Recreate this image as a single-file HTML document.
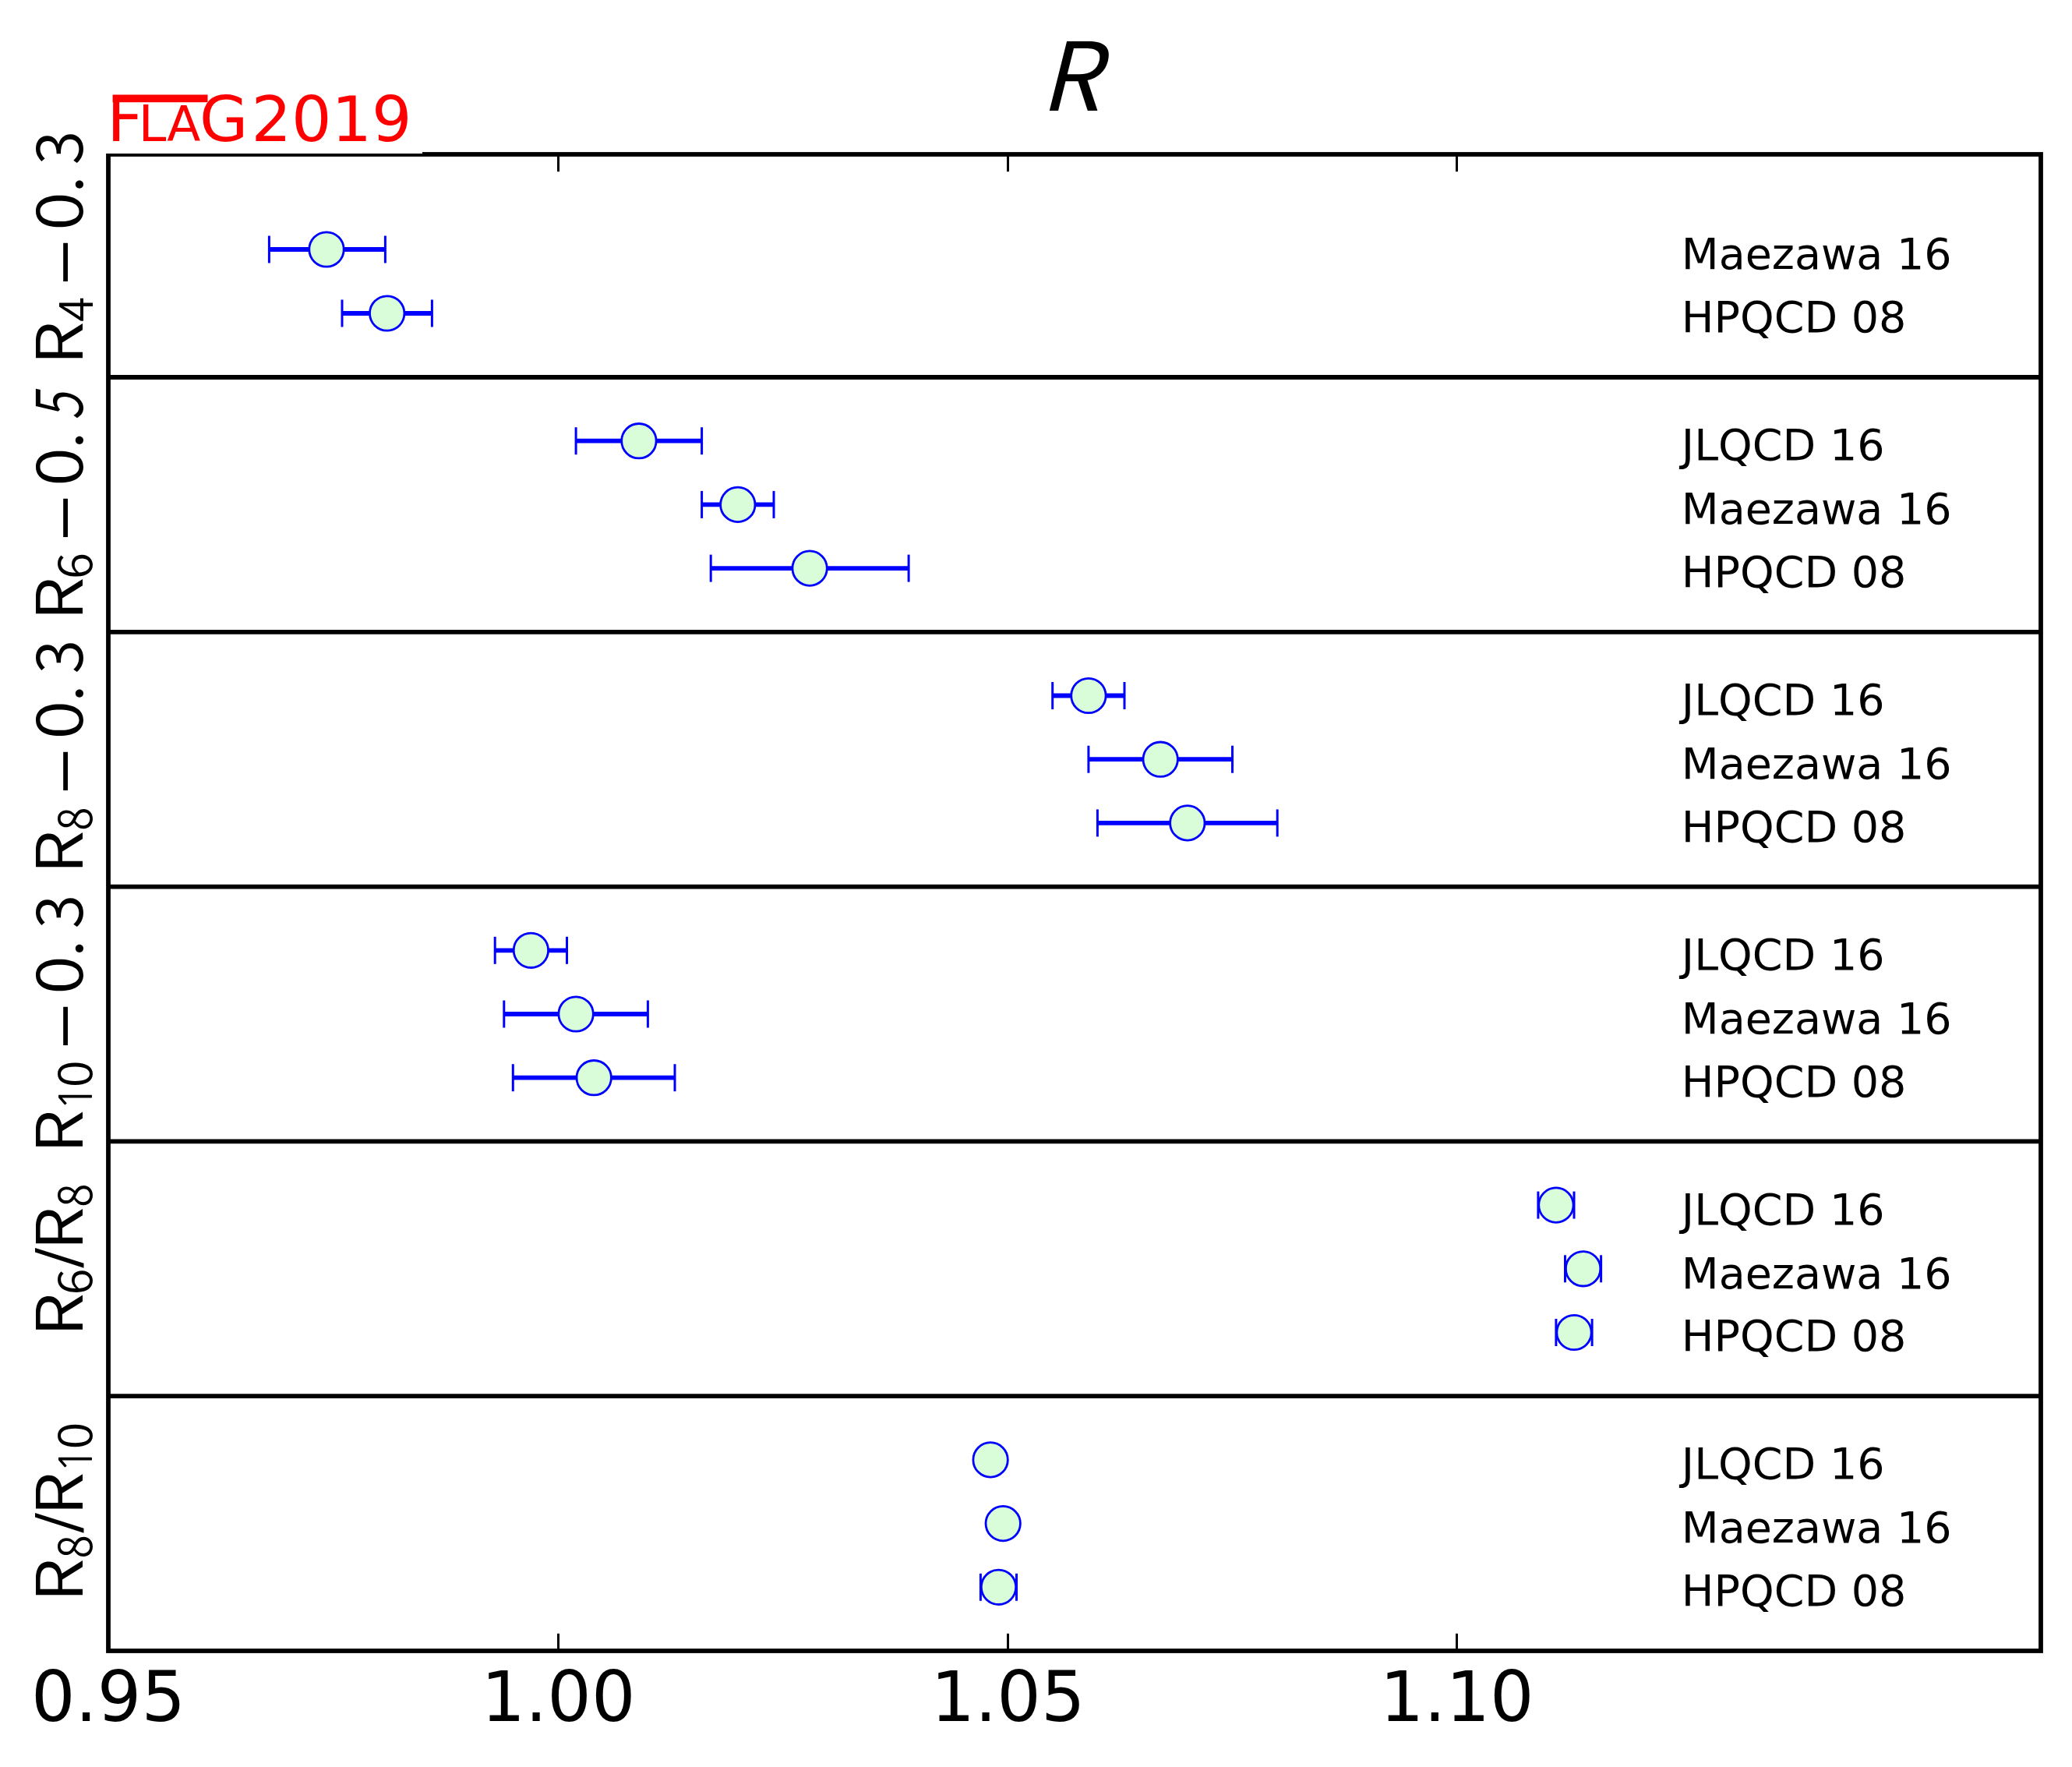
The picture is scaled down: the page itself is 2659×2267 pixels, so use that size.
<!DOCTYPE html>
<html lang="en"><head><meta charset="utf-8"><title>R</title>
<style>
html,body{margin:0;padding:0;background:#fff}
svg{display:block}
text{font-family:"DejaVu Sans","Liberation Sans",sans-serif;fill:#000}
.lab{font-size:55.5px}
.tick{font-size:88.9px;text-anchor:middle}
.red{fill:#f00}
</style></head>
<body>
<svg width="2659" height="2267" viewBox="0 0 2659 2267">
<rect x="0" y="0" width="2659" height="2267" fill="#fff"/>
<g stroke="#00f" fill="none">
<line x1="345.4" y1="320.0" x2="494.4" y2="320.0" stroke-width="5.8"/><line x1="345.4" y1="302.5" x2="345.4" y2="337.5" stroke-width="3"/><line x1="494.4" y1="302.5" x2="494.4" y2="337.5" stroke-width="3"/><circle cx="419.0" cy="320.0" r="22.2" fill="#d9fdd9" stroke-width="2.8"/>
<line x1="439.0" y1="402.0" x2="554.4" y2="402.0" stroke-width="5.8"/><line x1="439.0" y1="384.5" x2="439.0" y2="419.5" stroke-width="3"/><line x1="554.4" y1="384.5" x2="554.4" y2="419.5" stroke-width="3"/><circle cx="496.7" cy="402.0" r="22.2" fill="#d9fdd9" stroke-width="2.8"/>
<line x1="739.1" y1="565.7" x2="900.6" y2="565.7" stroke-width="5.8"/><line x1="739.1" y1="548.2" x2="739.1" y2="583.2" stroke-width="3"/><line x1="900.6" y1="548.2" x2="900.6" y2="583.2" stroke-width="3"/><circle cx="819.9" cy="565.7" r="22.2" fill="#d9fdd9" stroke-width="2.8"/>
<line x1="900.6" y1="647.4" x2="993.0" y2="647.4" stroke-width="5.8"/><line x1="900.6" y1="629.9" x2="900.6" y2="664.9" stroke-width="3"/><line x1="993.0" y1="629.9" x2="993.0" y2="664.9" stroke-width="3"/><circle cx="946.8" cy="647.4" r="22.2" fill="#d9fdd9" stroke-width="2.8"/>
<line x1="912.2" y1="729.1" x2="1166.1" y2="729.1" stroke-width="5.8"/><line x1="912.2" y1="711.6" x2="912.2" y2="746.6" stroke-width="3"/><line x1="1166.1" y1="711.6" x2="1166.1" y2="746.6" stroke-width="3"/><circle cx="1039.1" cy="729.1" r="22.2" fill="#d9fdd9" stroke-width="2.8"/>
<line x1="1350.7" y1="892.5" x2="1443.0" y2="892.5" stroke-width="5.8"/><line x1="1350.7" y1="875.0" x2="1350.7" y2="910.0" stroke-width="3"/><line x1="1443.0" y1="875.0" x2="1443.0" y2="910.0" stroke-width="3"/><circle cx="1396.9" cy="892.5" r="22.2" fill="#d9fdd9" stroke-width="2.8"/>
<line x1="1396.9" y1="974.2" x2="1581.5" y2="974.2" stroke-width="5.8"/><line x1="1396.9" y1="956.7" x2="1396.9" y2="991.7" stroke-width="3"/><line x1="1581.5" y1="956.7" x2="1581.5" y2="991.7" stroke-width="3"/><circle cx="1489.2" cy="974.2" r="22.2" fill="#d9fdd9" stroke-width="2.8"/>
<line x1="1408.4" y1="1055.9" x2="1639.2" y2="1055.9" stroke-width="5.8"/><line x1="1408.4" y1="1038.4" x2="1408.4" y2="1073.4" stroke-width="3"/><line x1="1639.2" y1="1038.4" x2="1639.2" y2="1073.4" stroke-width="3"/><circle cx="1523.8" cy="1055.9" r="22.2" fill="#d9fdd9" stroke-width="2.8"/>
<line x1="635.2" y1="1219.3" x2="727.5" y2="1219.3" stroke-width="5.8"/><line x1="635.2" y1="1201.8" x2="635.2" y2="1236.8" stroke-width="3"/><line x1="727.5" y1="1201.8" x2="727.5" y2="1236.8" stroke-width="3"/><circle cx="681.4" cy="1219.3" r="22.2" fill="#d9fdd9" stroke-width="2.8"/>
<line x1="646.8" y1="1301.0" x2="831.4" y2="1301.0" stroke-width="5.8"/><line x1="646.8" y1="1283.5" x2="646.8" y2="1318.5" stroke-width="3"/><line x1="831.4" y1="1283.5" x2="831.4" y2="1318.5" stroke-width="3"/><circle cx="739.1" cy="1301.0" r="22.2" fill="#d9fdd9" stroke-width="2.8"/>
<line x1="658.3" y1="1382.7" x2="866.0" y2="1382.7" stroke-width="5.8"/><line x1="658.3" y1="1365.2" x2="658.3" y2="1400.2" stroke-width="3"/><line x1="866.0" y1="1365.2" x2="866.0" y2="1400.2" stroke-width="3"/><circle cx="762.2" cy="1382.7" r="22.2" fill="#d9fdd9" stroke-width="2.8"/>
<line x1="1973.9" y1="1546.1" x2="2020.0" y2="1546.1" stroke-width="5.8"/><line x1="1973.9" y1="1528.6" x2="1973.9" y2="1563.6" stroke-width="3"/><line x1="2020.0" y1="1528.6" x2="2020.0" y2="1563.6" stroke-width="3"/><circle cx="1996.9" cy="1546.1" r="22.2" fill="#d9fdd9" stroke-width="2.8"/>
<line x1="2008.5" y1="1627.8" x2="2054.6" y2="1627.8" stroke-width="5.8"/><line x1="2008.5" y1="1610.3" x2="2008.5" y2="1645.3" stroke-width="3"/><line x1="2054.6" y1="1610.3" x2="2054.6" y2="1645.3" stroke-width="3"/><circle cx="2031.6" cy="1627.8" r="22.2" fill="#d9fdd9" stroke-width="2.8"/>
<line x1="1996.9" y1="1709.5" x2="2043.1" y2="1709.5" stroke-width="5.8"/><line x1="1996.9" y1="1692.0" x2="1996.9" y2="1727.0" stroke-width="3"/><line x1="2043.1" y1="1692.0" x2="2043.1" y2="1727.0" stroke-width="3"/><circle cx="2020.0" cy="1709.5" r="22.2" fill="#d9fdd9" stroke-width="2.8"/>
<line x1="1260.7" y1="1872.9" x2="1281.5" y2="1872.9" stroke-width="5.8"/><line x1="1260.7" y1="1855.4" x2="1260.7" y2="1890.4" stroke-width="3"/><line x1="1281.5" y1="1855.4" x2="1281.5" y2="1890.4" stroke-width="3"/><circle cx="1271.1" cy="1872.9" r="22.2" fill="#d9fdd9" stroke-width="2.8"/>
<line x1="1279.2" y1="1954.6" x2="1295.3" y2="1954.6" stroke-width="5.8"/><line x1="1279.2" y1="1937.1" x2="1279.2" y2="1972.1" stroke-width="3"/><line x1="1295.3" y1="1937.1" x2="1295.3" y2="1972.1" stroke-width="3"/><circle cx="1287.2" cy="1954.6" r="22.2" fill="#d9fdd9" stroke-width="2.8"/>
<line x1="1258.4" y1="2036.3" x2="1304.5" y2="2036.3" stroke-width="5.8"/><line x1="1258.4" y1="2018.8" x2="1258.4" y2="2053.8" stroke-width="3"/><line x1="1304.5" y1="2018.8" x2="1304.5" y2="2053.8" stroke-width="3"/><circle cx="1281.5" cy="2036.3" r="22.2" fill="#d9fdd9" stroke-width="2.8"/>
</g>
<g class="lab">
<text x="2157.8" y="345.20">Maezawa 16</text>
<text x="2157.8" y="426.10">HPQCD 08</text>
<text x="2157.8" y="590.10">JLQCD 16</text>
<text x="2157.8" y="672.10">Maezawa 16</text>
<text x="2157.8" y="753.05">HPQCD 08</text>
<text x="2157.8" y="916.90">JLQCD 16</text>
<text x="2157.8" y="998.90">Maezawa 16</text>
<text x="2157.8" y="1079.85">HPQCD 08</text>
<text x="2157.8" y="1243.70">JLQCD 16</text>
<text x="2157.8" y="1325.70">Maezawa 16</text>
<text x="2157.8" y="1406.65">HPQCD 08</text>
<text x="2157.8" y="1570.50">JLQCD 16</text>
<text x="2157.8" y="1652.50">Maezawa 16</text>
<text x="2157.8" y="1733.45">HPQCD 08</text>
<text x="2157.8" y="1897.30">JLQCD 16</text>
<text x="2157.8" y="1979.30">Maezawa 16</text>
<text x="2157.8" y="2060.25">HPQCD 08</text>
</g>
<g stroke="#000" stroke-width="3">
<line x1="716.5" y1="198.0" x2="716.5" y2="220.2"/><line x1="716.5" y1="2118.0" x2="716.5" y2="2095.8"/>
<line x1="1293.5" y1="198.0" x2="1293.5" y2="220.2"/><line x1="1293.5" y1="2118.0" x2="1293.5" y2="2095.8"/>
<line x1="1869.5" y1="198.0" x2="1869.5" y2="220.2"/><line x1="1869.5" y1="2118.0" x2="1869.5" y2="2095.8"/>
</g>
<g stroke="#000" stroke-width="5.8" fill="none">
<rect x="139.0" y="198.0" width="2480.0" height="1920.0"/>
<line x1="139.0" y1="484.0" x2="2619.0" y2="484.0"/>
<line x1="139.0" y1="810.8" x2="2619.0" y2="810.8"/>
<line x1="139.0" y1="1137.6" x2="2619.0" y2="1137.6"/>
<line x1="139.0" y1="1464.4" x2="2619.0" y2="1464.4"/>
<line x1="139.0" y1="1791.2" x2="2619.0" y2="1791.2"/>
</g>
<text class="tick" x="139.0" y="2208">0.95</text>
<text class="tick" x="716.5" y="2208">1.00</text>
<text class="tick" x="1293.5" y="2208">1.05</text>
<text class="tick" x="1869.6" y="2208">1.10</text>
<!--TITLE--><text transform="translate(1334.42,141.80) scale(1.2177,1.2150) skewX(-14)" style="font-family:'Noto Sans CJK JP','DejaVu Sans',sans-serif;font-weight:400;font-size:100px">R</text><!--/TITLE-->
<rect x="128" y="100" width="414" height="97" fill="#fff"/>
<g class="red">
<text class="red" x="137.3" y="181.1" style="font-size:80.5px">F</text>
<text class="red" x="177.8" y="181.1" style="font-size:64px">L</text>
<text class="red" x="214.2" y="181.1" style="font-size:63px">A</text>
<text class="red" x="256.1" y="181.1" style="font-size:80.5px">G</text>
<text class="red" x="322.4" y="181.1" style="font-size:81px">2019</text>
<rect x="144.6" y="121.5" width="121.9" height="9.7" fill="#f00"/>
</g>
<!--YLABELS-->
<g>
<text transform="translate(105.90,468.25) rotate(-90) scale(0.8929,0.8191)" style="font-family:'Noto Sans CJK JP','DejaVu Sans',sans-serif;font-weight:350;font-size:100px">R</text>
<text transform="translate(118.80,412.76) rotate(-90) scale(0.5809,0.6042)" style="font-family:'Noto Sans CJK JP','DejaVu Sans',sans-serif;font-weight:350;font-size:100px">4</text>
<text transform="translate(118.96,365.00) rotate(-90) scale(1.0400,0.9440)" style="font-family:'Noto Sans CJK JP','DejaVu Sans',sans-serif;font-weight:350;font-size:100px">−</text>
<text transform="translate(105.96,295.72) rotate(-90) scale(0.9044,0.8354)" style="font-family:'Noto Sans CJK JP','DejaVu Sans',sans-serif;font-weight:350;font-size:100px">0</text>
<text transform="translate(106.22,247.84) rotate(-90) scale(0.8327,0.7846)" style="font-family:'Noto Sans CJK JP','DejaVu Sans',sans-serif;font-weight:350;font-size:100px">.</text>
<text transform="translate(105.96,211.49) rotate(-90) scale(0.7978,0.8354)" style="font-family:'Noto Sans CJK JP','DejaVu Sans',sans-serif;font-weight:350;font-size:100px">3</text>
<text transform="translate(105.90,796.35) rotate(-90) scale(0.8929,0.8191)" style="font-family:'Noto Sans CJK JP','DejaVu Sans',sans-serif;font-weight:350;font-size:100px">R</text>
<text transform="translate(118.25,743.02) rotate(-90) scale(0.6222,0.6027)" style="font-family:'Noto Sans CJK JP','DejaVu Sans',sans-serif;font-weight:350;font-size:100px">6</text>
<text transform="translate(118.96,693.10) rotate(-90) scale(1.0400,0.9440)" style="font-family:'Noto Sans CJK JP','DejaVu Sans',sans-serif;font-weight:350;font-size:100px">−</text>
<text transform="translate(105.96,623.82) rotate(-90) scale(0.9044,0.8354)" style="font-family:'Noto Sans CJK JP','DejaVu Sans',sans-serif;font-weight:350;font-size:100px">0</text>
<text transform="translate(106.22,575.94) rotate(-90) scale(0.8327,0.7846)" style="font-family:'Noto Sans CJK JP','DejaVu Sans',sans-serif;font-weight:350;font-size:100px">.</text>
<text transform="translate(106.04,539.17) rotate(-90) scale(0.6349,0.8457) skewX(-14)" style="font-family:'Noto Sans CJK JP','DejaVu Sans',sans-serif;font-weight:350;font-size:100px">5</text>
<text transform="translate(105.90,1121.15) rotate(-90) scale(0.8929,0.8191)" style="font-family:'Noto Sans CJK JP','DejaVu Sans',sans-serif;font-weight:350;font-size:100px">R</text>
<text transform="translate(118.25,1065.68) rotate(-90) scale(0.5508,0.6014)" style="font-family:'Noto Sans CJK JP','DejaVu Sans',sans-serif;font-weight:350;font-size:100px">8</text>
<text transform="translate(118.96,1017.90) rotate(-90) scale(1.0400,0.9440)" style="font-family:'Noto Sans CJK JP','DejaVu Sans',sans-serif;font-weight:350;font-size:100px">−</text>
<text transform="translate(105.96,948.62) rotate(-90) scale(0.9044,0.8354)" style="font-family:'Noto Sans CJK JP','DejaVu Sans',sans-serif;font-weight:350;font-size:100px">0</text>
<text transform="translate(106.22,900.74) rotate(-90) scale(0.8327,0.7846)" style="font-family:'Noto Sans CJK JP','DejaVu Sans',sans-serif;font-weight:350;font-size:100px">.</text>
<text transform="translate(105.96,864.39) rotate(-90) scale(0.7978,0.8354)" style="font-family:'Noto Sans CJK JP','DejaVu Sans',sans-serif;font-weight:350;font-size:100px">3</text>
<text transform="translate(105.90,1479.65) rotate(-90) scale(0.8929,0.8191)" style="font-family:'Noto Sans CJK JP','DejaVu Sans',sans-serif;font-weight:350;font-size:100px">R</text>
<text transform="translate(117.86,1425.35) rotate(-90) scale(0.5582,0.5758)" style="font-family:'NanumGothic','DejaVu Sans',sans-serif;font-weight:400;font-size:100px">1</text>
<text transform="translate(118.25,1395.28) rotate(-90) scale(0.6356,0.6027)" style="font-family:'Noto Sans CJK JP','DejaVu Sans',sans-serif;font-weight:350;font-size:100px">0</text>
<text transform="translate(118.96,1345.10) rotate(-90) scale(1.0400,0.9440)" style="font-family:'Noto Sans CJK JP','DejaVu Sans',sans-serif;font-weight:350;font-size:100px">−</text>
<text transform="translate(105.96,1275.82) rotate(-90) scale(0.9044,0.8354)" style="font-family:'Noto Sans CJK JP','DejaVu Sans',sans-serif;font-weight:350;font-size:100px">0</text>
<text transform="translate(106.22,1227.94) rotate(-90) scale(0.8327,0.7846)" style="font-family:'Noto Sans CJK JP','DejaVu Sans',sans-serif;font-weight:350;font-size:100px">.</text>
<text transform="translate(105.96,1191.59) rotate(-90) scale(0.7978,0.8354)" style="font-family:'Noto Sans CJK JP','DejaVu Sans',sans-serif;font-weight:350;font-size:100px">3</text>
<text transform="translate(105.90,1714.75) rotate(-90) scale(0.8929,0.8191)" style="font-family:'Noto Sans CJK JP','DejaVu Sans',sans-serif;font-weight:350;font-size:100px">R</text>
<text transform="translate(118.25,1661.17) rotate(-90) scale(0.6133,0.6027)" style="font-family:'Noto Sans CJK JP','DejaVu Sans',sans-serif;font-weight:350;font-size:100px">6</text>
<text transform="translate(95.90,1627.40) rotate(-90) scale(0.7211,0.6388)" style="font-family:'Noto Sans CJK JP','DejaVu Sans',sans-serif;font-weight:500;font-size:100px">/</text>
<text transform="translate(105.90,1604.35) rotate(-90) scale(0.8929,0.8191)" style="font-family:'Noto Sans CJK JP','DejaVu Sans',sans-serif;font-weight:350;font-size:100px">R</text>
<text transform="translate(118.25,1548.68) rotate(-90) scale(0.5508,0.6014)" style="font-family:'Noto Sans CJK JP','DejaVu Sans',sans-serif;font-weight:350;font-size:100px">8</text>
<text transform="translate(105.90,2055.15) rotate(-90) scale(0.8929,0.8191)" style="font-family:'Noto Sans CJK JP','DejaVu Sans',sans-serif;font-weight:350;font-size:100px">R</text>
<text transform="translate(118.25,1999.48) rotate(-90) scale(0.5508,0.6014)" style="font-family:'Noto Sans CJK JP','DejaVu Sans',sans-serif;font-weight:350;font-size:100px">8</text>
<text transform="translate(95.90,1967.60) rotate(-90) scale(0.7211,0.6388)" style="font-family:'Noto Sans CJK JP','DejaVu Sans',sans-serif;font-weight:500;font-size:100px">/</text>
<text transform="translate(105.90,1944.55) rotate(-90) scale(0.8929,0.8191)" style="font-family:'Noto Sans CJK JP','DejaVu Sans',sans-serif;font-weight:350;font-size:100px">R</text>
<text transform="translate(117.86,1890.15) rotate(-90) scale(0.5582,0.5758)" style="font-family:'NanumGothic','DejaVu Sans',sans-serif;font-weight:400;font-size:100px">1</text>
<text transform="translate(118.25,1859.38) rotate(-90) scale(0.6356,0.6027)" style="font-family:'Noto Sans CJK JP','DejaVu Sans',sans-serif;font-weight:350;font-size:100px">0</text>
</g>
<!--/YLABELS-->
</svg>
</body></html>
